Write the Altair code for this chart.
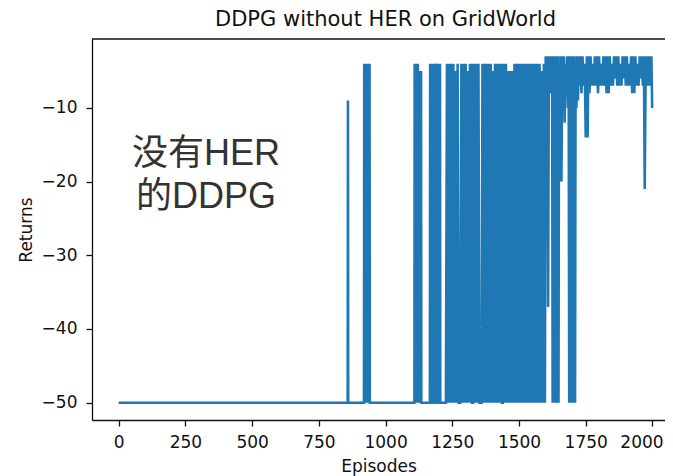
import altair as alt
import pandas as pd

# ---- data ----
x_ticks = [0, 250, 500, 750, 1000, 1250, 1500, 1750, 2000]
y_ticks = [-50, -40, -30, -20, -10]

ep_early = [0, 858, 859, 860,
            919, 920, 922, 924, 926, 928, 930, 932, 934, 936, 938, 940, 941,
            1108, 1109, 1112, 1115, 1118, 1121, 1124, 1127, 1130, 1133, 1134,
            1166, 1167, 1170, 1172, 1173,
            1180, 1181, 1184, 1187, 1190, 1191,
            1198, 1199, 1202, 1204, 1205]
ret_early = [-50, -50, -9, -50,
             -50, -4, -50, -4, -50, -4, -50, -4, -50, -4, -50, -4, -50,
             -50, -4, -50, -4, -50, -4, -50, -5, -50, -5, -50,
             -50, -4, -50, -4, -50,
             -50, -4, -50, -5, -4, -50,
             -50, -4, -50, -4, -50]

ep_mid = [1226, 1230, 1234, 1238, 1242, 1246, 1250, 1254, 1258, 1262, 1266, 1270, 1274,
          1280, 1284, 1288, 1292, 1296, 1300, 1304, 1308, 1312, 1316, 1320, 1323, 1325,
          1328, 1332, 1336, 1340, 1344, 1348, 1352,
          1360, 1363, 1366, 1370, 1374, 1378, 1382, 1386, 1390, 1394, 1398, 1402, 1406,
          1410, 1414, 1418, 1422, 1426, 1430, 1434, 1436,
          1439, 1443, 1447, 1451, 1455, 1459, 1463, 1467, 1471, 1475, 1479, 1483, 1487,
          1491, 1495, 1499, 1503, 1507, 1511, 1515, 1519, 1523, 1527, 1531, 1535, 1539, 1541,
          1545, 1549, 1553, 1557, 1561, 1565, 1569, 1573, 1577, 1581, 1585, 1589, 1593, 1597]
ret_mid = [-50, -4, -50, -4, -50, -4, -50, -4, -50, -5, -50, -4, -50,
           -50, -4, -50, -4, -50, -4, -50, -5, -50, -4, -50, -4, -50,
           -50, -4, -50, -4, -50, -4, -50,
           -50, -4, -50, -4, -50, -4, -50, -4, -50, -4, -50, -5, -50,
           -4, -50, -4, -50, -4, -50, -4, -50,
           -50, -4, -50, -4, -50, -5, -50, -5, -50, -5, -50, -4, -50,
           -4, -50, -4, -50, -4, -50, -4, -50, -4, -50, -4, -50, -4, -50,
           -4, -50, -4, -50, -4, -50, -4, -50, -4, -50, -5, -50, -4, -50]

ep_late = [1600, 1603, 1606, 1609, 1612, 1615, 1618, 1621, 1624, 1626, 1630, 1634, 1638,
           1642, 1646, 1648, 1650, 1653, 1656, 1659, 1662, 1665, 1668, 1671, 1674, 1677,
           1680, 1683, 1686, 1688, 1692, 1696, 1700, 1704, 1708, 1710, 1712, 1715, 1718,
           1721, 1724, 1727, 1730, 1734, 1738, 1742, 1746, 1750, 1754, 1757, 1760, 1764,
           1768, 1772, 1776, 1780, 1784, 1788, 1792, 1796, 1800, 1804, 1808, 1812, 1816,
           1820, 1824, 1828, 1832, 1836, 1840, 1844, 1848, 1852, 1856, 1860, 1864, 1868,
           1872, 1876, 1880, 1884, 1888, 1892, 1896, 1900, 1904, 1908, 1912, 1916, 1920,
           1924, 1928, 1932, 1936, 1940, 1944, 1948, 1952, 1956, 1960, 1964, 1968, 1971,
           1975, 1980, 1984, 1988, 1991, 1994, 1996, 1999]
ret_late = [-3, -26, -3, -37, -3, -7, -3, -8, -3, -50, -3, -50, -3,
            -50, -3, -50, -4, -20, -3, -20, -3, -9, -3, -12, -4, -8,
            -3, -10, -3, -50, -3, -50, -3, -50, -3, -50, -4, -10, -3,
            -9, -3, -7, -3, -8, -3, -7, -4, -14, -3, -14, -3, -8,
            -3, -7, -4, -7, -3, -7, -3, -8, -3, -7, -4, -7, -3,
            -7, -3, -8, -3, -8, -3, -7, -4, -7, -3, -6, -3, -7,
            -3, -7, -4, -7, -3, -6, -3, -7, -3, -7, -4, -7, -3,
            -8, -3, -8, -3, -7, -4, -7, -3, -6, -3, -7, -3, -21,
            -3, -7, -3, -7, -3, -7, -3, -10]

note_lines = ["没有HER", "的DDPG"]
note_pos = {"Episodes": [327], "Returns": [-17.7]}

# ---- chart ----
df = pd.DataFrame({"Episodes": ep_early + ep_mid + ep_late,
                   "Returns": ret_early + ret_mid + ret_late})

W, H = 573, 381
FONT = "DejaVu Sans"
INK = "#111111"

x_scale = alt.Scale(domain=[-100, 2047], nice=False, zero=False)
y_scale = alt.Scale(domain=[-52.35, -0.65], nice=False, zero=False)

axis_common = dict(grid=False, labelFont=FONT, labelFontSize=17, labelColor=INK,
                   tickSize=6, tickWidth=1.3, tickColor=INK,
                   domainColor=INK, domainWidth=1.3,
                   titleFont=FONT, titleFontSize=17, titleFontWeight="normal",
                   titleColor=INK, labelOverlap=False, labelFlush=False)

line = alt.Chart(df).mark_line(color="#1f77b4", strokeWidth=2.55, clip=True).encode(
    x=alt.X("Episodes:Q", scale=x_scale,
            axis=alt.Axis(values=x_ticks, format="d", title="Episodes",
                          labelPadding=8, titleY=51.7, titleBaseline="alphabetic",
                          labelOffset=alt.condition("datum.value == 2000",
                                                    alt.value(-11), alt.value(0)),
                          **axis_common)),
    y=alt.Y("Returns:Q", scale=y_scale,
            axis=alt.Axis(values=y_ticks, format="d", title="Returns",
                          labelPadding=9, titleX=-60.5, titleBaseline="alphabetic",
                          labelExpr="replace(datum.label, '-', '\u2212')",
                          **axis_common)),
)

top_spine = alt.Chart(pd.DataFrame({"k": [0]})).mark_rule(
    color=INK, strokeWidth=1.3).encode(
    x=alt.value(0), x2=alt.value(W), y=alt.value(0))

note = alt.Chart(pd.DataFrame(note_pos)).mark_text(
    text=note_lines, font="Liberation Sans, Noto Sans CJK SC", fontSize=36,
    lineHeight=43, align="center", baseline="alphabetic", color="#333333").encode(
    x=alt.X("Episodes:Q", scale=x_scale),
    y=alt.Y("Returns:Q", scale=y_scale))

chart = alt.layer(line, top_spine, note).properties(
    width=W, height=H,
    title=alt.TitleParams("DDPG without HER on GridWorld", font=FONT, fontSize=21,
                          fontWeight="normal", color=INK, baseline="bottom",
                          offset=7, dy=20, dx=7, anchor="middle", frame="group"),
    autosize=alt.AutoSizeParams(type="none"),
    padding={"left": 84, "top": 31, "right": 0, "bottom": 56},
).configure_view(stroke=None)

chart.save("out.html", embed_options={"renderer": "svg", "actions": False})
